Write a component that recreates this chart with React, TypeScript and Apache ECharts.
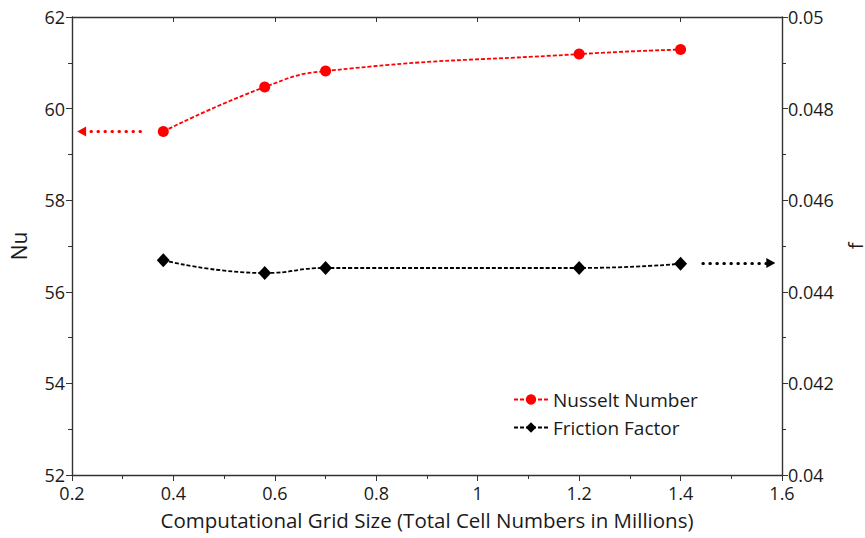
import React, { useEffect, useRef } from "react";
import * as echarts from "echarts";

const gridSizes = [0.38, 0.58, 0.7, 1.2, 1.4];
const nusseltValues = [59.5, 60.47, 60.82, 61.19, 61.29];
const frictionValues = [0.04469, 0.04441, 0.04452, 0.04452, 0.04461];
const seriesNames = ["Nusselt Number", "Friction Factor"];
const xTitle = "Computational Grid Size (Total Cell Numbers in Millions)";
const leftTitle = "Nu";
const rightTitle = "f";
const nuArrow = [[0.335, 59.5], [0.219, 59.5]];
const fArrow = [[1.444, 0.04463], [1.578, 0.04463]];

const FONT = "Open Sans";
const TXT = "#1a1a1a";
const AX = "#333333";

export default function App() {
  const ref = useRef<HTMLDivElement>(null);
  useEffect(() => {
    if (!ref.current) return;
    const chart = echarts.init(ref.current, null, { renderer: "svg" });
    const lbl = { color: TXT, fontFamily: FONT, fontSize: 18 };
    chart.setOption({
      animation: false,
      backgroundColor: "#ffffff",
      textStyle: { fontFamily: FONT },
      grid: { left: 72, right: 83, top: 17, bottom: 63, containLabel: false, outerBoundsMode: "none" },
      legend: {
        orient: "vertical",
        left: 508,
        top: 385,
        itemWidth: 34,
        itemHeight: 13,
        itemGap: 9,
        textStyle: { color: TXT, fontFamily: FONT, fontSize: 19 },
        data: seriesNames,
      },
      xAxis: [
        {
          type: "value",
          min: 0.2,
          max: 1.6,
          interval: 0.2,
          position: "bottom",
          name: xTitle,
          nameLocation: "middle",
          nameGap: 34,
          nameTextStyle: { color: TXT, fontFamily: FONT, fontSize: 20.5 },
          axisLine: { show: true, lineStyle: { color: AX, width: 1.4 } },
          axisTick: { show: true, inside: false, length: 6, lineStyle: { color: AX } },
          minorTick: { show: true, splitNumber: 2, length: 4, lineStyle: { color: AX } },
          splitLine: { show: false },
          axisLabel: { ...lbl, margin: 9, formatter: (v: number) => String(+v.toFixed(1)) },
        },
        {
          type: "value",
          min: 0.2,
          max: 1.6,
          interval: 0.2,
          position: "top",
          axisLine: { show: true, lineStyle: { color: AX, width: 1.4 } },
          axisTick: { show: true, inside: true, length: 5, lineStyle: { color: AX } },
          splitLine: { show: false },
          axisLabel: { show: false },
        },
      ],
      yAxis: [
        {
          type: "value",
          min: 52,
          max: 62,
          interval: 2,
          position: "left",
          name: leftTitle,
          nameLocation: "middle",
          nameGap: 43,
          nameRotate: 90,
          nameTextStyle: { color: TXT, fontFamily: FONT, fontSize: 21 },
          axisLine: { show: true, lineStyle: { color: AX, width: 1.4 } },
          axisTick: { show: true, inside: false, length: 6, lineStyle: { color: AX } },
          minorTick: { show: true, splitNumber: 2, length: 4, lineStyle: { color: AX } },
          splitLine: { show: false },
          axisLabel: { ...lbl, margin: 7 },
        },
        {
          type: "value",
          min: 0.04,
          max: 0.05,
          interval: 0.002,
          position: "right",
          name: rightTitle,
          nameLocation: "middle",
          nameGap: 63,
          nameMoveOverlap: false,
          nameRotate: 90,
          nameTextStyle: { color: TXT, fontFamily: FONT, fontSize: 20, lineHeight: 20 },
          axisLine: { show: true, lineStyle: { color: AX, width: 1.4 } },
          axisTick: { show: true, inside: false, length: 6, lineStyle: { color: AX } },
          minorTick: { show: true, splitNumber: 2, length: 4, lineStyle: { color: AX } },
          splitLine: { show: false },
          axisLabel: { ...lbl, margin: 6 },
        },
      ],
      series: [
        {
          name: seriesNames[0],
          type: "line",
          xAxisIndex: 0,
          yAxisIndex: 0,
          data: gridSizes.map((x, i) => [x, nusseltValues[i]]),
          smooth: 0.5,
          symbol: "circle",
          symbolSize: 11,
          itemStyle: { color: "#ff0000" },
          lineStyle: { color: "#ff0000", width: 1.8, type: [4, 2] },
          markLine: {
            silent: true,
            symbol: ["none", "triangle"],
            symbolSize: [10, 9],
            label: { show: false },
            lineStyle: { color: "#ff0000", width: 3, type: [0.5, 6.5], cap: "round" },
            data: [[{ coord: nuArrow[0] }, { coord: nuArrow[1] }]],
          },
        },
        {
          name: seriesNames[1],
          type: "line",
          xAxisIndex: 0,
          yAxisIndex: 1,
          data: gridSizes.map((x, i) => [x, frictionValues[i]]),
          smooth: 0.5,
          symbol: "diamond",
          symbolSize: [13, 14],
          itemStyle: { color: "#000000" },
          lineStyle: { color: "#000000", width: 1.8, type: [4, 2] },
          markLine: {
            silent: true,
            symbol: ["none", "triangle"],
            symbolSize: [10, 9],
            label: { show: false },
            lineStyle: { color: "#000000", width: 3, type: [0.5, 6.5], cap: "round" },
            data: [[{ coord: fArrow[0] }, { coord: fArrow[1] }]],
          },
        },
      ],
    });
    return () => chart.dispose();
  }, []);
  return <div ref={ref} style={{ width: 865, height: 538, position: "absolute", left: 0, top: 0 }} />;
}
